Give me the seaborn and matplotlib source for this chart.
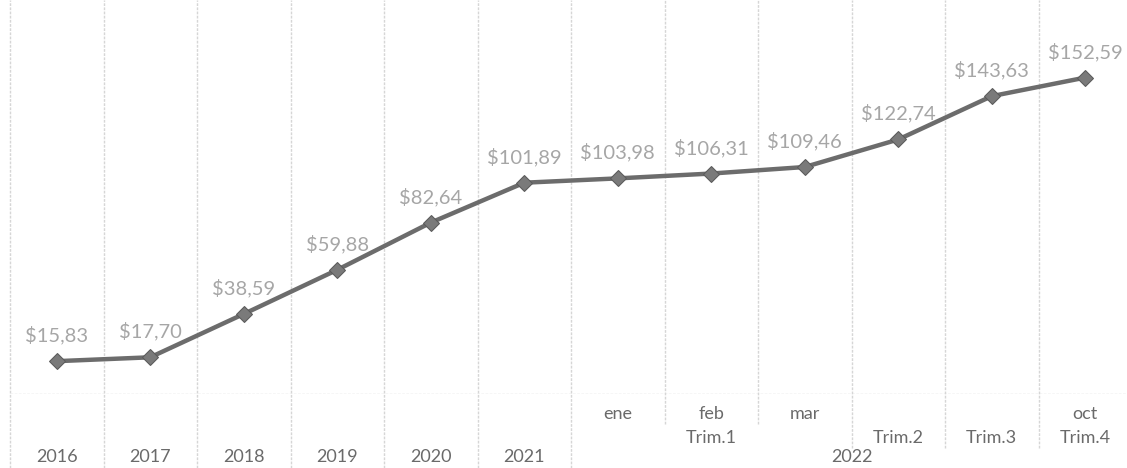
import matplotlib
matplotlib.use("Agg")
import matplotlib.pyplot as plt
import matplotlib.transforms as mtransforms
import seaborn as sns
import pandas as pd
import numpy as np

# data
periods = ['2016', '2017', '2018', '2019', '2020', '2021',
           'ene', 'feb', 'mar', 'Trim.2', 'Trim.3', 'Trim.4']
values = [15.83, 17.70, 38.59, 59.88, 82.64, 101.89,
          103.98, 106.31, 109.46, 122.74, 143.63, 152.59]
month_labels = ['ene', 'feb', 'mar', '', '', 'oct']
quarter_labels = ['Trim.1', 'Trim.2', 'Trim.3', 'Trim.4']
year_2022 = '2022'

df = pd.DataFrame({'pos': np.arange(len(periods)), 'value': values})

sns.set_style('white')
plt.rcParams['font.family'] = ['Lato', 'DejaVu Sans']

fig = plt.figure(figsize=(11.27, 4.68), dpi=100)
ax = fig.add_axes([10 / 1127, (468 - 394) / 468, 1122 / 1127, 394 / 468])

sns.lineplot(data=df, x='pos', y='value', ax=ax, color='#6c6c6c', linewidth=3.2,
             marker='D', markersize=8.5, markeredgecolor='#5a5a5a', markerfacecolor='#7a7a7a')

ax.set_xlim(-0.5, len(periods) - 0.5)
ax.set_ylim(0, 190)
for s in ax.spines.values():
    s.set_visible(False)
ax.set_xticks([])
ax.set_yticks([])
ax.set_xlabel('')
ax.set_ylabel('')

grid_c = '#d6d6d6'
# horizontal axis line
ax.axhline(0, color=grid_c, linewidth=1, linestyle=(0, (2, 1)))

trans = mtransforms.blended_transform_factory(ax.transData, ax.transAxes)
fig_bottom = -(468 - 394) / 394  # figure bottom in axes coords
row1 = -(414 - 394) / 394
row2 = -(438 - 394) / 394
row3 = -(457 - 394) / 394

# vertical separators
for i in range(len(periods) + 1):
    b = i - 0.5
    if i <= 6 or i == len(periods):
        low = fig_bottom
    elif i in (7, 8):
        low = -(424 - 394) / 394
    else:
        low = -(448 - 394) / 394
    ax.plot([b, b], [low, 1], transform=trans, color=grid_c, linewidth=1,
            linestyle=(0, (2, 1)), clip_on=False, zorder=0)

# data labels
for i, v in enumerate(values):
    ax.annotate('$' + f'{v:.2f}'.replace('.', ','), (i, v), xytext=(0, 12),
                textcoords='offset points', ha='center', va='bottom',
                fontsize=14.5, color='#a6a6a6')

lab_c = '#6a6a6a'
# year labels
for i in range(6):
    ax.text(i, row3, periods[i], transform=trans, ha='center', va='center',
            fontsize=13, color=lab_c)
# months
for j, m in enumerate(month_labels):
    if m:
        ax.text(6 + j, row1, m, transform=trans, ha='center', va='center',
                fontsize=13, color=lab_c)
# quarters
q_pos = [7, 9, 10, 11]
for q, p in zip(quarter_labels, q_pos):
    ax.text(p, row2, q, transform=trans, ha='center', va='center',
            fontsize=13, color=lab_c)
ax.text(8.5, row3, year_2022, transform=trans, ha='center', va='center',
        fontsize=13, color=lab_c)

fig.savefig('out.png', dpi=100)
